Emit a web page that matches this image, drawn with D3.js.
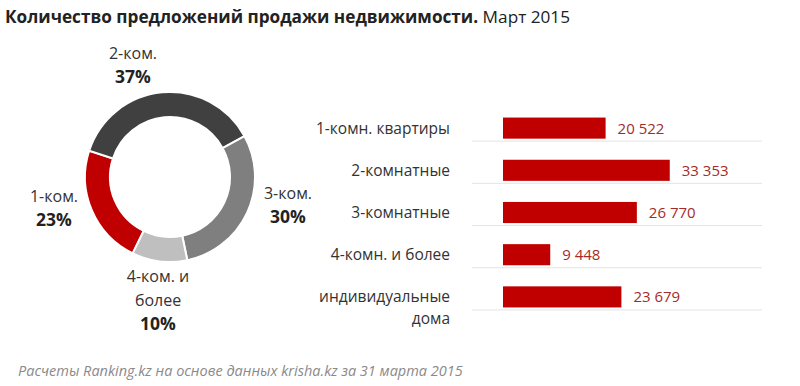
<!DOCTYPE html>
<html>
<head>
<meta charset="utf-8">
<script src="https://cdn.jsdelivr.net/npm/d3@7"></script>
<style>
  body { margin: 0; background: #fff; }
  text { font-family: "Open Sans", "Noto Sans", sans-serif; }
</style>
</head>
<body>
<div id="chart"></div>
<script>
const categories = ['1-комн. квартиры', '2-комнатные', '3-комнатные', '4-комн. и более', 'индивидуальные дома'];
const counts = [20522, 33353, 26770, 9448, 23679];

const donutNames = ['1-ком.', '2-ком.', '3-ком.', '4-ком. и более'];
const donutValues = [20522, 33353, 26770, 9448];
const donutColors = ['#c00000', '#404040', '#7f7f7f', '#bfbfbf'];

const W = 800, H = 386;
const svg = d3.select('#chart').append('svg').attr('width', W).attr('height', H);

// title
const title = svg.append('text').attr('x', 5).attr('y', 23)
    .attr('font-size', 17.2).attr('fill', '#222');
title.append('tspan').attr('font-weight', 'bold').text('Количество предложений продажи недвижимости.');
title.append('tspan').text(' Март 2015');

// donut
const cx = 170, cy = 177;
const pie = d3.pie().sort(null)
    .startAngle(206 * Math.PI / 180)
    .endAngle(566 * Math.PI / 180);
const arc = d3.arc().innerRadius(60).outerRadius(85);
const arcs = pie(donutValues);
const total = d3.sum(donutValues);

const dg = svg.append('g').attr('transform', `translate(${cx},${cy})`);
dg.selectAll('path').data(arcs).enter().append('path')
    .attr('d', arc)
    .attr('fill', (d, i) => donutColors[i])
    .attr('stroke', '#fff').attr('stroke-width', 2);

// label positions around the donut (name lines, then percent)
const labelPos = [[-116, 25], [-37, -118], [118, 22], [-12, 105]];
arcs.forEach((a, i) => {
    const [lx, ly] = labelPos[i];
    const lines = i === 3 ? ['4-ком. и', 'более'] : [donutNames[i]];
    const t = dg.append('text').attr('text-anchor', 'middle').attr('fill', '#333');
    lines.forEach((l, j) => {
        t.append('tspan').attr('x', lx).attr('y', ly + j * 24).attr('font-size', 16).text(l);
    });
    t.append('tspan').attr('x', lx).attr('y', ly + lines.length * 24)
        .attr('font-size', 17.5).attr('font-weight', 'bold').attr('fill', '#222')
        .text(Math.round(donutValues[i] / total * 100) + '%');
});

// bars
const x = d3.scaleLinear().domain([0, 40000]).range([503, 703]);
const y = d3.scaleBand().domain(categories).range([107, 318]).paddingInner(0.5).paddingOuter(0.25);

const bg = svg.append('g');
bg.selectAll('line.grid').data(categories).enter().append('line')
    .attr('x1', 472).attr('x2', 762)
    .attr('y1', d => y(d) + y.bandwidth() + 2.5).attr('y2', d => y(d) + y.bandwidth() + 2.5)
    .attr('stroke', '#e4e4e4').attr('stroke-width', 1);

bg.selectAll('rect').data(counts).enter().append('rect')
    .attr('x', x(0)).attr('y', (d, i) => y(categories[i]))
    .attr('width', d => x(d) - x(0)).attr('height', y.bandwidth())
    .attr('fill', '#c00000');

bg.selectAll('text.val').data(counts).enter().append('text')
    .attr('x', d => x(d) + 12).attr('y', (d, i) => y(categories[i]) + y.bandwidth() / 2 + 5.5)
    .attr('font-size', 15).attr('fill', '#a52a2a')
    .text(d => d3.format(',')(d).replace(',', ' '));

categories.forEach((c, i) => {
    const lines = i === 4 ? ['индивидуальные', 'дома'] : [c];
    const t = bg.append('text').attr('text-anchor', 'end').attr('font-size', 15.5).attr('fill', '#333');
    lines.forEach((l, j) => {
        t.append('tspan').attr('x', 450).attr('y', y(c) + y.bandwidth() / 2 + 5.5 + j * 22).text(l);
    });
});

// source
svg.append('text').attr('x', 18).attr('y', 376)
    .attr('font-size', 14.5).attr('font-style', 'italic').attr('fill', '#8a8a8a')
    .text('Расчеты Ranking.kz на основе данных krisha.kz за 31 марта 2015');
</script>
</body>
</html>
